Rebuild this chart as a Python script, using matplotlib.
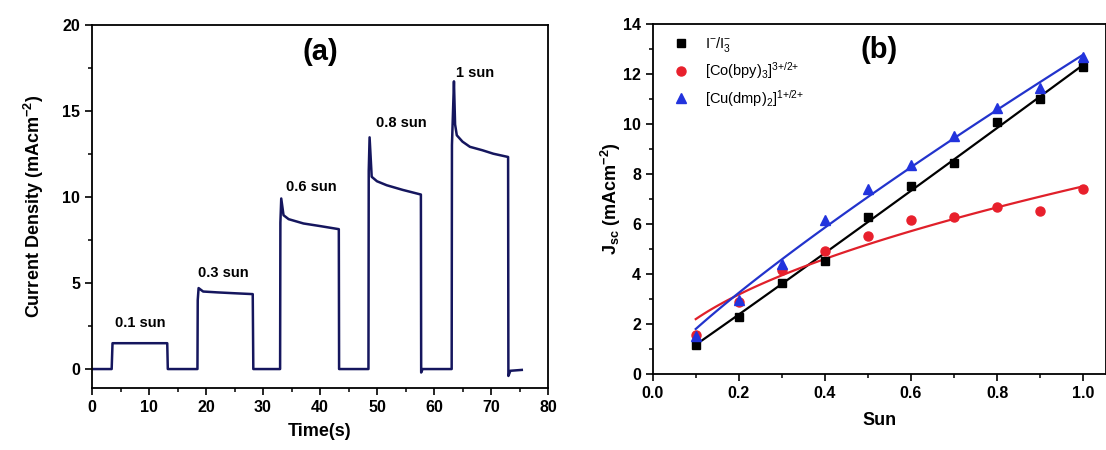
import matplotlib
matplotlib.use("Agg")
import matplotlib.pyplot as plt
import numpy as np
from matplotlib.ticker import MultipleLocator

plt.rcParams['font.family'] = ['Liberation Sans', 'DejaVu Sans']
plt.rcParams['mathtext.fontset'] = 'custom'
plt.rcParams['mathtext.default'] = 'regular'
plt.rcParams['mathtext.rm'] = 'Liberation Sans'
plt.rcParams['mathtext.bf'] = 'Liberation Sans:bold'

# ---- Panel (a): photocurrent transient ----
time_s = [0, 3.45, 3.6, 13.2, 13.3, 18.5, 18.55, 18.7, 19.5, 22, 25, 28.2, 28.3,
          33.0, 33.05, 33.2, 33.6, 34.5, 37.1, 40, 43.3, 43.35,
          48.5, 48.55, 48.7, 49.07, 50, 51.7, 54.5, 57.7, 57.75, 58.0,
          63.1, 63.15, 63.5, 63.7, 64.0, 65, 66.3, 68.5, 70.4, 73.0, 73.05, 73.4, 75.4]
current = [0, 0, 1.5, 1.5, 0, 0, 4.0, 4.7, 4.5, 4.45, 4.4, 4.35, 0,
           0, 8.5, 9.9, 8.93, 8.7, 8.45, 8.3, 8.12, 0,
           0, 11.5, 13.45, 11.16, 10.9, 10.67, 10.4, 10.13, -0.2, 0,
           0, 13.0, 16.7, 14.2, 13.57, 13.2, 12.9, 12.7, 12.5, 12.31, -0.4, -0.1, -0.05]
sun_labels = ['0.1 sun', '0.3 sun', '0.6 sun', '0.8 sun', '1 sun']
label_x = [8.4, 23.0, 38.4, 54.2, 67.2]
label_y = [2.67, 5.6, 10.58, 14.29, 17.2]

# ---- Panel (b): Jsc vs sun ----
sun = [0.1, 0.2, 0.3, 0.4, 0.5, 0.6, 0.7, 0.8, 0.9, 1.0]
jsc_iodide = [1.16, 2.29, 3.63, 4.53, 6.29, 7.53, 8.45, 10.09, 10.99, 12.27]
jsc_co = [1.56, 2.89, 4.16, 4.93, 5.53, 6.16, 6.27, 6.67, 6.53, 7.40]
jsc_cu = [1.52, 2.96, 4.40, 6.16, 7.39, 8.36, 9.52, 10.63, 11.43, 12.69]
series_labels = [r'I$^{-}$/I$_3^{-}$', r'[Co(bpy)$_3$]$^{3{+}/2{+}}$', r'[Cu(dmp)$_2$]$^{1{+}/2{+}}$']


def power_fit(x, y):
    """Least-squares fit of y = a * x**b (grid over b, closed form for a)."""
    x = np.asarray(x, float)
    y = np.asarray(y, float)
    best = None
    for b in np.linspace(0.2, 1.5, 1301):
        xb = x ** b
        a = np.dot(xb, y) / np.dot(xb, xb)
        r = np.sum((y - a * xb) ** 2)
        if best is None or r < best[0]:
            best = (r, a, b)
    return best[1], best[2]


fig = plt.figure(figsize=(11.06, 4.5), dpi=100)
W, H = 1106, 450


def ax_rect(l, t, r, b):
    return [l / W, 1 - b / H, (r - l) / W, (b - t) / H]


navy = '#15165e'
ax1 = fig.add_axes(ax_rect(92, 24.5, 548, 388))
ax1.plot(time_s, current, color=navy, lw=1.8, solid_joinstyle='round')
ax1.set_xlim(0, 80)
ax1.set_ylim(-1.1, 20)
ax1.xaxis.set_major_locator(MultipleLocator(10))
ax1.xaxis.set_minor_locator(MultipleLocator(5))
ax1.yaxis.set_major_locator(MultipleLocator(5))
ax1.yaxis.set_minor_locator(MultipleLocator(2.5))
for s, x, y in zip(sun_labels, label_x, label_y):
    ax1.text(x, y, s, ha='center', va='center', fontsize=10.5, fontweight='bold')
ax1.text(0.5, 0.925, '(a)', transform=ax1.transAxes, ha='center', va='center',
         fontsize=21, fontweight='bold')
ax1.set_xlabel('Time(s)', fontsize=13, fontweight='bold', labelpad=6)
ax1.set_ylabel('Current Density (mAcm$^{-2}$)', fontsize=13, fontweight='bold', labelpad=12)

ax2 = fig.add_axes(ax_rect(652.7, 24, 1106, 374))
ax2.set_xlim(0, 1.053)
ax2.set_ylim(0, 14)
xs = np.linspace(0.1, 1.0, 100)
colors_line = ['black', '#e0202a', '#2233cc']
for yv, c in zip([jsc_iodide, jsc_co, jsc_cu], colors_line):
    a, b = power_fit(sun, yv)
    ax2.plot(xs, a * xs ** b, color=c, lw=1.6)
ax2.plot(sun, jsc_iodide, 's', color='black', ms=6, label=series_labels[0])
ax2.plot(sun, jsc_co, 'o', color='#e8202c', ms=6.5, label=series_labels[1])
ax2.plot(sun, jsc_cu, '^', color='#2233dd', ms=7, label=series_labels[2])
ax2.xaxis.set_minor_locator(MultipleLocator(0.1))
ax2.yaxis.set_major_locator(MultipleLocator(2))
ax2.yaxis.set_minor_locator(MultipleLocator(1))
ax2.set_xticks(np.arange(0, 1.01, 0.2))
ax2.set_xticklabels(['%.1f' % v for v in np.arange(0, 1.01, 0.2)])
ax2.text(0.5, 0.925, '(b)', transform=ax2.transAxes, ha='center', va='center',
         fontsize=21, fontweight='bold')
ax2.set_xlabel('Sun', fontsize=13, fontweight='bold', labelpad=8)
ax2.set_ylabel(r'J$_{sc}$ (mAcm$^{-2}$)', fontsize=13, fontweight='bold', labelpad=0)
leg = ax2.legend(loc='upper left', bbox_to_anchor=(0.02, 1.0), frameon=False,
                 fontsize=10.5, handlelength=1.2, handletextpad=1.0,
                 borderaxespad=0.35, labelspacing=0.45)

for ax in (ax1, ax2):
    for sp in ax.spines.values():
        sp.set_linewidth(1.3)
    ax.tick_params(which='major', direction='out', length=5, width=1.2, labelsize=11.5)
    ax.tick_params(which='minor', direction='out', length=3, width=1.1)
    for lbl in ax.get_xticklabels() + ax.get_yticklabels():
        lbl.set_fontweight('bold')

fig.savefig('out.png', dpi=100)
